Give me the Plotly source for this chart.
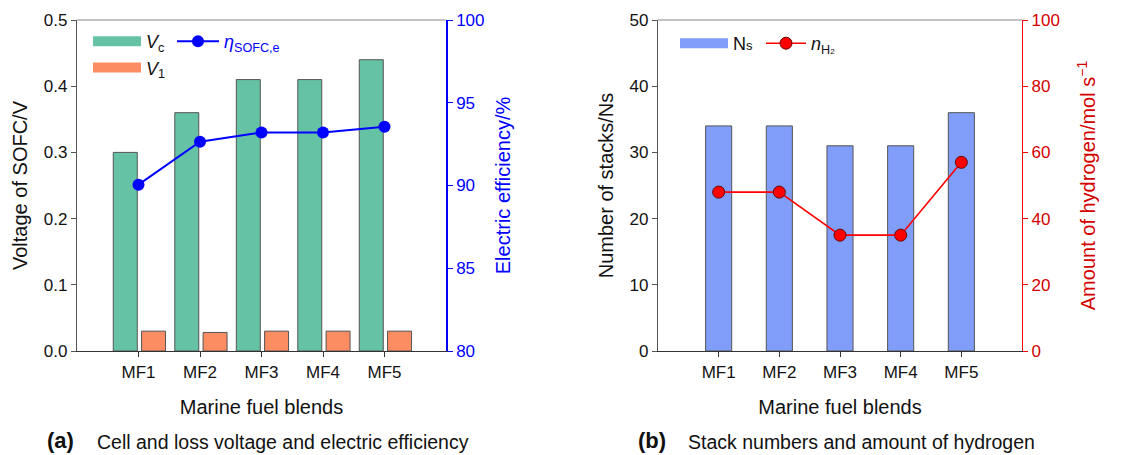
import plotly.graph_objects as go

# ---------------- data ----------------
blends = ["MF1", "MF2", "MF3", "MF4", "MF5"]
v_cell = [0.30, 0.36, 0.41, 0.41, 0.44]          # V_c (V)
v_loss = [0.030, 0.028, 0.030, 0.030, 0.030]     # V_1 (V)
eff_sofc = [90.05, 92.65, 93.2, 93.2, 93.55]     # electric efficiency (%)
n_stacks = [34, 34, 31, 31, 36]                  # Ns
n_h2 = [48, 48, 35, 35, 57]                      # amount of hydrogen (mol/s)

left_ticks = [0.0, 0.1, 0.2, 0.3, 0.4, 0.5]
eff_ticks = [80, 85, 90, 95, 100]
ns_ticks = [0, 10, 20, 30, 40, 50]
h2_ticks = [0, 20, 40, 60, 80, 100]

# ---------------- geometry helpers ----------------
W, H = 1137, 455
ML, MR, MT, MB = 77, W - 1022, 20, H - 351
PW, PH = W - ML - MR, H - MT - MB


def fx(px):
    return (px - ML) / PW


def fy(py):
    return (H - MB - py) / PH


FONT = "Liberation Sans, Arial, Helvetica, sans-serif"
BLUE = "#0000ff"
RED_TXT = "#d40000"
RED = "#ff0000"
AX = "#333333"
GREEN = "#66c2a5"
ORANGE = "#fc8d62"
LBLUE = "#809dfa"

fig = go.Figure()

# ---- panel (a) ----
fig.add_trace(go.Bar(
    x=blends, y=v_cell, name="<i>V</i><sub>c</sub>", showlegend=False,
    marker=dict(color=GREEN, line=dict(color="#555555", width=1)),
    offset=-0.41, width=0.39, xaxis="x", yaxis="y"))
fig.add_trace(go.Bar(
    x=blends, y=v_loss, name="<i>V</i><sub>1</sub>", showlegend=False,
    marker=dict(color=ORANGE, line=dict(color="#555555", width=1)),
    offset=0.05, width=0.39, xaxis="x", yaxis="y"))
# legend keys drawn as wide swatches (like the reference)
fig.add_trace(go.Scatter(
    x=[None], y=[None], mode="lines", name="<i>V</i><sub>c</sub>",
    line=dict(color=GREEN, width=13), xaxis="x", yaxis="y", legend="legend"))
fig.add_trace(go.Scatter(
    x=[None], y=[None], mode="lines", name="<i>V</i><sub>1</sub>",
    line=dict(color=ORANGE, width=13), xaxis="x", yaxis="y", legend="legend"))
fig.add_trace(go.Scatter(
    x=blends, y=eff_sofc, name="<i>η</i><sub>SOFC,e</sub>",
    mode="lines+markers", line=dict(color=BLUE, width=2),
    marker=dict(color=BLUE, size=12),
    xaxis="x", yaxis="y2", legend="legend2"))

# ---- panel (b) ----
fig.add_trace(go.Bar(
    x=blends, y=n_stacks, name="Ns", showlegend=False,
    marker=dict(color=LBLUE, line=dict(color="#555555", width=1)),
    offset=-0.215, width=0.43, xaxis="x2", yaxis="y3"))
fig.add_trace(go.Scatter(
    x=[None], y=[None], mode="lines", name="N<span style='font-size:13px'>s</span>",
    line=dict(color=LBLUE, width=13), xaxis="x2", yaxis="y3", legend="legend3"))
fig.add_trace(go.Scatter(
    x=blends, y=n_h2, name="<i>n</i><sub>H<span style='font-size:8px'>2</span></sub>",
    mode="lines+markers", line=dict(color=RED, width=1.6),
    marker=dict(color=RED, size=12, line=dict(color="#6a0000", width=1)),
    xaxis="x2", yaxis="y4", legend="legend4"))

tickfont = dict(family=FONT, size=17, color="#111111")
titlefont = dict(family=FONT, size=20, color="#111111")

xcommon = dict(type="category", range=[-1, 5], showline=True, linecolor=AX,
               linewidth=1.2, ticks="outside", ticklen=5, tickcolor=AX,
               tickfont=tickfont, showgrid=False, zeroline=False, automargin=False)
ycommon = dict(showline=True, linecolor="#555555", linewidth=1.2,
               ticks="outside", ticklen=5, tickcolor="#555555",
               tickfont=tickfont, showgrid=False, zeroline=False, automargin=False)

legfont = dict(family=FONT, size=18, color="#111111")

fig.update_layout(
    width=W, height=H, autosize=False,
    margin=dict(l=ML, r=MR, t=MT, b=MB, autoexpand=False),
    paper_bgcolor="white", plot_bgcolor="white",
    barmode="overlay",
    font=dict(family=FONT, color="#111111"),
    xaxis=dict(domain=[0, fx(446)], anchor="y",
               title=dict(text="Marine fuel blends", font=titlefont, standoff=19),
               **xcommon),
    yaxis=dict(domain=[0, 1], anchor="x", range=[0, 0.5], tickvals=left_ticks,
               tickformat=".1f",
               title=dict(text="Voltage of SOFC/V", font=titlefont, standoff=10),
               **ycommon),
    yaxis2=dict(overlaying="y", side="right", anchor="x", range=[80, 100],
                tickvals=eff_ticks, showline=True, linecolor=BLUE, linewidth=1.5,
                ticks="outside", ticklen=5, tickcolor=BLUE,
                tickfont=dict(family=FONT, size=17, color=BLUE),
                showgrid=False, zeroline=False, automargin=False,
                title=dict(text="Electric efficiency/%",
                           font=dict(family=FONT, size=20, color=BLUE), standoff=12)),
    xaxis2=dict(domain=[fx(658), 1], anchor="y3",
                title=dict(text="Marine fuel blends", font=titlefont, standoff=19),
                **xcommon),
    yaxis3=dict(domain=[0, 1], anchor="x2", range=[0, 50], tickvals=ns_ticks,
                title=dict(text="Number of stacks/Ns", font=titlefont, standoff=10),
                **ycommon),
    yaxis4=dict(overlaying="y3", side="right", anchor="x2", range=[0, 100],
                tickvals=h2_ticks, showline=True, linecolor=RED, linewidth=1.2,
                ticks="outside", ticklen=5, tickcolor=RED,
                tickfont=dict(family=FONT, size=17, color=RED_TXT),
                showgrid=False, zeroline=False, automargin=False,
                title=dict(text="Amount of hydrogen/mol s<sup>−1</sup>",
                           font=dict(family=FONT, size=20, color=RED_TXT), standoff=22)),
    legend=dict(x=fx(88), y=fy(23), xanchor="left", yanchor="top",
                bgcolor="rgba(0,0,0,0)", font=legfont, itemwidth=48, tracegroupgap=0),
    legend2=dict(x=fx(172), y=fy(23), xanchor="left", yanchor="top",
                 bgcolor="rgba(0,0,0,0)", font=dict(family=FONT, size=18, color=BLUE),
                 itemwidth=42),
    legend3=dict(x=fx(675), y=fy(25), xanchor="left", yanchor="top",
                 bgcolor="rgba(0,0,0,0)", font=legfont, itemwidth=48),
    legend4=dict(x=fx(761), y=fy(25), xanchor="left", yanchor="top",
                 bgcolor="rgba(0,0,0,0)", font=legfont, itemwidth=40),
    shapes=[
        dict(type="line", xref="x domain", yref="y domain", x0=0, x1=1, y0=1, y1=1,
             line=dict(color="#888888", width=1.2)),
        dict(type="line", xref="x2 domain", yref="y3 domain", x0=0, x1=1, y0=1, y1=1,
             line=dict(color="#888888", width=1.2)),
    ],
    annotations=[
        dict(x=fx(45), y=fy(440), xref="paper", yref="paper", xanchor="left",
             yanchor="middle", showarrow=False, text="<b>(a)</b>",
             font=dict(family=FONT, size=22, color="#111111")),
        dict(x=fx(95), y=fy(442), xref="paper", yref="paper", xanchor="left",
             yanchor="middle", showarrow=False,
             text="Cell and loss voltage and electric efficiency",
             font=dict(family=FONT, size=19.5, color="#111111")),
        dict(x=fx(636), y=fy(440), xref="paper", yref="paper", xanchor="left",
             yanchor="middle", showarrow=False, text="<b>(b)</b>",
             font=dict(family=FONT, size=22, color="#111111")),
        dict(x=fx(686), y=fy(442), xref="paper", yref="paper", xanchor="left",
             yanchor="middle", showarrow=False,
             text="Stack numbers and amount of hydrogen",
             font=dict(family=FONT, size=19.5, color="#111111")),
    ],
)

fig.write_html("out.html", config={"displayModeBar": False},
               post_script="document.body.style.margin='0';document.body.style.overflow='hidden';")
